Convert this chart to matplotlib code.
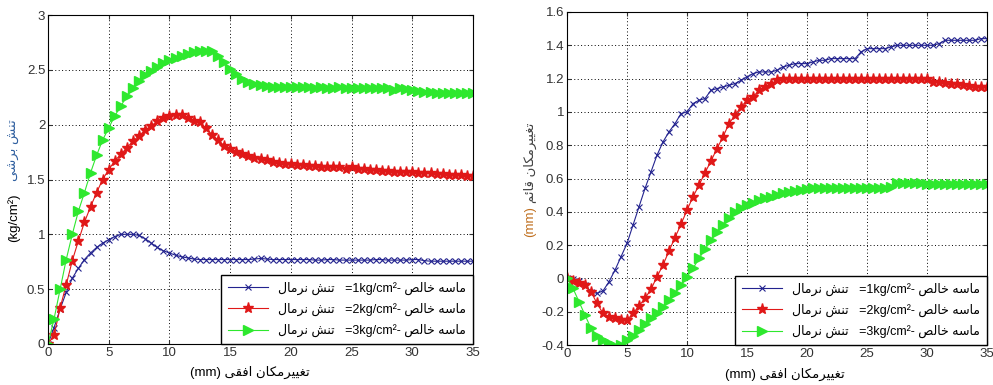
import numpy as np
from matplotlib import pyplot as plt

# displacement samples (mm), every 0.5 mm
x = np.arange(0, 35.5, 0.5)

# left: shear stress (kg/cm2)
shear_1 = [0, 0.15, 0.32, 0.47, 0.60, 0.69, 0.77, 0.83, 0.88, 0.92,
           0.95, 0.98, 1.00, 1.00, 1.00, 0.99, 0.96, 0.92, 0.88, 0.85,
           0.83, 0.81, 0.795, 0.785, 0.775, 0.77, 0.77, 0.77, 0.77, 0.77,
           0.77, 0.77, 0.77, 0.77, 0.775, 0.78, 0.775, 0.77, 0.77, 0.77,
           0.77, 0.77, 0.77, 0.77, 0.765, 0.765, 0.77, 0.77, 0.765, 0.765,
           0.765, 0.765, 0.765, 0.765, 0.77, 0.77, 0.765, 0.765, 0.765, 0.765,
           0.77, 0.77, 0.76, 0.755, 0.755, 0.755, 0.755, 0.755, 0.755, 0.755,
           0.755]
shear_2 = [0, 0.08, 0.33, 0.54, 0.76, 0.94, 1.11, 1.25, 1.38, 1.50,
           1.59, 1.67, 1.73, 1.79, 1.85, 1.90, 1.95, 1.99, 2.03, 2.06,
           2.08, 2.09, 2.09, 2.06, 2.03, 2.02, 1.97, 1.91, 1.86, 1.81,
           1.78, 1.75, 1.73, 1.71, 1.70, 1.69, 1.68, 1.66, 1.65, 1.645,
           1.64, 1.635, 1.63, 1.62, 1.62, 1.61, 1.61, 1.61, 1.61, 1.60,
           1.61, 1.60, 1.60, 1.59, 1.59, 1.58, 1.58, 1.57, 1.57, 1.57,
           1.57, 1.56, 1.56, 1.56, 1.55, 1.55, 1.54, 1.54, 1.54, 1.53,
           1.53]
shear_3 = [0, 0.23, 0.50, 0.77, 1.00, 1.21, 1.38, 1.56, 1.72, 1.86,
           1.97, 2.08, 2.17, 2.26, 2.33, 2.40, 2.45, 2.49, 2.53, 2.56,
           2.59, 2.61, 2.63, 2.64, 2.66, 2.67, 2.67, 2.67, 2.63, 2.57,
           2.51, 2.46, 2.42, 2.39, 2.37, 2.36, 2.35, 2.345, 2.34, 2.34,
           2.34, 2.34, 2.34, 2.34, 2.335, 2.34, 2.335, 2.335, 2.34, 2.335,
           2.335, 2.33, 2.335, 2.33, 2.33, 2.33, 2.33, 2.32, 2.33, 2.325,
           2.32, 2.31, 2.30, 2.30, 2.29, 2.29, 2.29, 2.29, 2.29, 2.29,
           2.29]

# right: vertical displacement (mm)
vert_1 = [0, -0.005, -0.015, -0.04, -0.08, -0.09, -0.075, -0.02, 0.05, 0.13,
          0.21, 0.32, 0.43, 0.54, 0.64, 0.74, 0.82, 0.88, 0.93, 0.99,
          1.00, 1.05, 1.07, 1.08, 1.13, 1.14, 1.15, 1.16, 1.17, 1.19,
          1.21, 1.23, 1.24, 1.24, 1.24, 1.25, 1.27, 1.28, 1.29, 1.29,
          1.29, 1.30, 1.31, 1.31, 1.32, 1.32, 1.32, 1.32, 1.32, 1.36,
          1.38, 1.38, 1.38, 1.38, 1.39, 1.40, 1.40, 1.40, 1.40, 1.40,
          1.40, 1.40, 1.41, 1.43, 1.43, 1.43, 1.43, 1.43, 1.43, 1.44,
          1.44]
vert_2 = [0, -0.015, -0.025, -0.04, -0.08, -0.15, -0.21, -0.23, -0.24, -0.25,
          -0.25, -0.21, -0.165, -0.12, -0.065, 0.01, 0.08, 0.165, 0.245, 0.325,
          0.41, 0.49, 0.56, 0.635, 0.705, 0.78, 0.85, 0.93, 0.98, 1.03,
          1.07, 1.09, 1.13, 1.15, 1.17, 1.19, 1.20, 1.20, 1.20, 1.20,
          1.20, 1.20, 1.20, 1.20, 1.20, 1.20, 1.20, 1.20, 1.20, 1.20,
          1.20, 1.20, 1.20, 1.20, 1.20, 1.20, 1.20, 1.20, 1.20, 1.20,
          1.20, 1.18, 1.18, 1.175, 1.17, 1.17, 1.16, 1.155, 1.15, 1.15,
          1.15]
vert_3 = [0, -0.06, -0.14, -0.22, -0.30, -0.345, -0.37, -0.39, -0.405, -0.40,
          -0.37, -0.345, -0.31, -0.275, -0.24, -0.205, -0.17, -0.13, -0.09, -0.04,
          0.01, 0.06, 0.12, 0.175, 0.23, 0.28, 0.32, 0.36, 0.40, 0.42,
          0.44, 0.455, 0.47, 0.48, 0.49, 0.50, 0.51, 0.52, 0.525, 0.53,
          0.535, 0.54, 0.545, 0.545, 0.545, 0.545, 0.545, 0.545, 0.545, 0.545,
          0.545, 0.545, 0.545, 0.545, 0.55, 0.57, 0.57, 0.57, 0.57, 0.57,
          0.565, 0.565, 0.565, 0.565, 0.565, 0.565, 0.565, 0.565, 0.565, 0.565,
          0.565]

xticks = [0, 5, 10, 15, 20, 25, 30, 35]
left_yticks = [0, 0.5, 1, 1.5, 2, 2.5, 3]
left_ylabels = ["0", "0.5", "1", "1.5", "2", "2.5", "3"]
right_yticks = [-0.4, -0.2, 0, 0.2, 0.4, 0.6, 0.8, 1, 1.2, 1.4, 1.6]
right_ylabels = ["-0.4", "-0.2", "0", "0.2", "0.4", "0.6", "0.8", "1", "1.2", "1.4", "1.6"]

# Persian text, pre-shaped (presentation forms) and in visual order
TANESH = "\ufeb6\ufee8\ufe97"                      # تنش
NORMAL = "\ufedd\ufe8e\ufee3\ufeae\ufee7"          # نرمال
MASEH = "\ufeea\ufeb3\ufe8e\ufee3"                 # ماسه
KHALES = "\ufeba\ufedf\ufe8e\ufea7"                # خالص
BORSHI = "\ufef0\ufeb7\ufeae\ufe91"                # برشی
TAGHYIR = "\ufee5\ufe8e\ufedc\ufee3\ufeae\ufef4\ufef4\ufed0\ufe97"  # تغییرمکان
OFOGHI = "\ufef0\ufed8\ufed3\ufe8d"                # افقی
GHAEM = "\ufee2\ufe8b\ufe8e\ufed7"                 # قائم

loads = ["1", "2", "3"]
labels = [f"{NORMAL} {TANESH}   ={n}kg/cm\u00b2- {KHALES} {MASEH}" for n in loads]

plt.rcParams['font.family'] = ['Liberation Sans', 'DejaVu Sans']

c_blue = "#23238f"
c_red = "#e01818"
c_green = "#2ee82e"
styles = [
    dict(color=c_blue, marker="x", markersize=4, markeredgewidth=0.8, linewidth=0.8),
    dict(color=c_red, marker="*", markersize=8, linewidth=0.8),
    dict(color=c_green, marker=">", markersize=7, linewidth=0.8),
]

fig = plt.figure(figsize=(9.93, 3.85), dpi=100)
ax1 = fig.add_axes([48/993, 1-344/385, 425/993, 329/385])
ax2 = fig.add_axes([567/993, 1-345/385, 420/993, 333/385])


def setup(ax, yticks, ylabels, ylim):
    ax.set_xlim(0, 35)
    ax.set_ylim(*ylim)
    ax.set_xticks(xticks)
    ax.set_xticklabels([str(t) for t in xticks])
    ax.set_yticks(yticks)
    ax.set_yticklabels(ylabels)
    ax.grid(True, color="black", linestyle=(0, (1, 2.5)), linewidth=0.7)
    ax.tick_params(direction="in", length=3, labelsize=9.5, colors="#333333",
                   top=True, right=True, pad=2)
    for s in ax.spines.values():
        s.set_color("black")
        s.set_linewidth(0.8)


for ys, st, lab in zip([shear_1, shear_2, shear_3], styles, labels):
    ax1.plot(x, ys, label=lab, **st)
for ys, st, lab in zip([vert_1, vert_2, vert_3], styles, labels):
    ax2.plot(x, ys, label=lab, **st)

setup(ax1, left_yticks, left_ylabels, (0, 3))
setup(ax2, right_yticks, right_ylabels, (-0.4, 1.6))

for ax in (ax1, ax2):
    leg = ax.legend(loc="lower right", fontsize=9, frameon=True, fancybox=False,
                    edgecolor="black", framealpha=1, borderaxespad=0,
                    handlelength=3.2, labelspacing=0.65, borderpad=0.55)
    leg.get_frame().set_linewidth(1.0)

# axis labels
fig.text(250/993, 1-372/385, f"(mm) {OFOGHI} {TAGHYIR}", ha="center", va="center", fontsize=9.5)
fig.text(785/993, 1-374/385, f"(mm) {OFOGHI} {TAGHYIR}", ha="center", va="center", fontsize=9.5)
fig.text(14/993, 1-218/385, "(kg/cm\u00b2)", rotation=90, ha="center", va="center", fontsize=9.5)
fig.text(14/993, 1-150/385, f"{BORSHI} {TANESH}", rotation=90, ha="center", va="center",
         fontsize=9.5, color="#3060a0")
fig.text(530/993, 1-222/385, "(mm)", rotation=90, ha="center", va="center", fontsize=9.5,
         color="#c07020")
fig.text(530/993, 1-163/385, f"{GHAEM} {TAGHYIR}", rotation=90, ha="center", va="center",
         fontsize=9.5, color="#404040")

fig.savefig("out.png", dpi=100)
